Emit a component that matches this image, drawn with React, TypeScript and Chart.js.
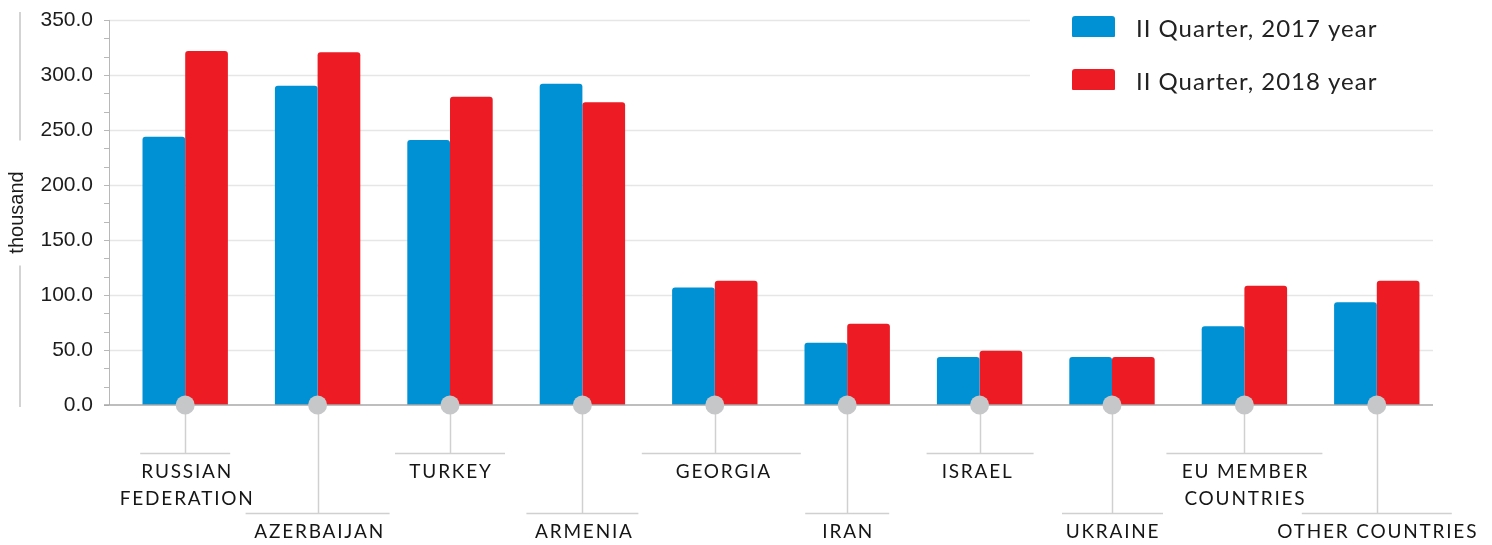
import React, { useEffect, useRef } from 'react';
import { Chart, registerables } from 'chart.js';

Chart.register(...registerables);

const categories: string[][] = [
  ['RUSSIAN', 'FEDERATION'],
  ['AZERBAIJAN'],
  ['TURKEY'],
  ['ARMENIA'],
  ['GEORGIA'],
  ['IRAN'],
  ['ISRAEL'],
  ['UKRAINE'],
  ['EU MEMBER', 'COUNTRIES'],
  ['OTHER COUNTRIES'],
];
const seriesNames = ['II Quarter, 2017 year', 'II Quarter, 2018 year'];
const q2y2017 = [243.9, 290.3, 241.0, 292.0, 106.8, 56.6, 43.6, 43.6, 71.5, 93.4];
const q2y2018 = [321.8, 320.6, 280.3, 275.3, 112.9, 73.9, 49.4, 43.6, 108.5, 112.9];
const yMax = 350;
const yStep = 50;
const yTitle = 'thousand';

// decoration styling (rule half-widths left/right and text shift per label)
const ruleSpans = [[45, 45], [72, 72], [55, 55], [56, 56], [73, 86], [42, 42], [53, 54], [50, 51], [78, 78], [75, 75]];
const textShift = [1, 1, 0, 1, 8, 0, -3, 0, 0, 0];

const BLUE = '#0091d5';
const RED = '#ed1c24';

function line(ctx: CanvasRenderingContext2D, x1: number, y1: number, x2: number, y2: number) {
  ctx.beginPath();
  ctx.moveTo(x1, y1);
  ctx.lineTo(x2, y2);
  ctx.stroke();
}

const decor = {
  id: 'decor',
  beforeDatasetsDraw(chart: any) {
    const { ctx, chartArea: a, scales } = chart;
    const y = scales.y;
    const left = a.left - 10;
    const right = a.right - 10;
    ctx.save();
    ctx.strokeStyle = '#e6e6e6';
    ctx.lineWidth = 1.5;
    for (let v = yStep; v <= yMax; v += yStep) {
      const py = Math.round(y.getPixelForValue(v)) + 0.5;
      line(ctx, left, py, right, py);
    }
    // white legend backdrop
    ctx.fillStyle = '#ffffff';
    ctx.fillRect(1030, 0, chart.width - 1030, 100);
    // minor ticks
    ctx.strokeStyle = '#b8b8b8';
    ctx.lineWidth = 1;
    for (let i = 0; i <= (yMax / yStep) * 3; i++) {
      const py = Math.round(y.getPixelForValue((i * yStep) / 3)) + 0.5;
      line(ctx, left - 5, py, left, py);
    }
    line(ctx, left + 0.5, y.getPixelForValue(yMax), left + 0.5, y.getPixelForValue(0));
    ctx.restore();
  },
  afterDatasetsDraw(chart: any) {
    const { ctx, chartArea: a, scales } = chart;
    const x = scales.x;
    const y = scales.y;
    const left = a.left - 10;
    const right = a.right - 10;
    const y0 = y.getPixelForValue(0);
    ctx.save();
    // bottom axis
    ctx.strokeStyle = '#a8a8a8';
    ctx.lineWidth = 1.5;
    line(ctx, left - 5, y0, right, y0);

    categories.forEach((lab, i) => {
      const cx = x.getPixelForValue(i);
      const long = i % 2 === 1;
      const ly = long ? y0 + 108.5 : y0 + 48.5;
      ctx.strokeStyle = '#d0d0d0';
      ctx.lineWidth = 1.5;
      line(ctx, Math.round(cx) + 0.5, y0, Math.round(cx) + 0.5, ly);
      line(ctx, cx - ruleSpans[i][0], ly, cx + ruleSpans[i][1], ly);
      ctx.fillStyle = '#c6c7c9';
      ctx.beginPath();
      ctx.arc(cx, y0, 9.5, 0, Math.PI * 2);
      ctx.fill();
      ctx.fillStyle = '#161616';
      ctx.font = '400 19px Lato';
      (ctx as any).letterSpacing = '1.8px';
      ctx.textAlign = 'center';
      ctx.textBaseline = 'middle';
      lab.forEach((t, k) => {
        ctx.fillText(t, cx + textShift[i] + 1, ly + 18.5 + k * 27);
      });
    });
    (ctx as any).letterSpacing = '0px';

    // legend
    const colors = [BLUE, RED];
    seriesNames.forEach((n, k) => {
      const top = 16 + k * 53;
      ctx.fillStyle = colors[k];
      ctx.beginPath();
      (ctx as any).roundRect(1072, top, 43, 21, [3, 3, 1, 1]);
      ctx.fill();
      ctx.fillStyle = '#222';
      ctx.font = '24px Lato';
      (ctx as any).letterSpacing = '1px';
      ctx.textAlign = 'left';
      ctx.textBaseline = 'alphabetic';
      ctx.fillText(n, 1136, top + 21);
    });
    (ctx as any).letterSpacing = '0px';

    // y title rules
    const mid = (y.top + y.bottom) / 2;
    ctx.strokeStyle = '#c4c4c4';
    ctx.lineWidth = 1.5;
    line(ctx, 20, y.top - 8, 20, mid - 72);
    line(ctx, 20, mid + 53, 20, y0 + 2);
    ctx.restore();
  },
};

export default function App() {
  const ref = useRef<HTMLCanvasElement | null>(null);
  useEffect(() => {
    document.body.style.margin = '0';
    const canvas = ref.current!;
    const chart = new Chart(canvas, {
      type: 'bar',
      data: {
        labels: categories,
        datasets: [
          {
            label: seriesNames[0],
            data: q2y2017,
            backgroundColor: BLUE,
            borderRadius: { topLeft: 3, topRight: 3, bottomLeft: 0, bottomRight: 0 },
            borderSkipped: false,
          },
          {
            label: seriesNames[1],
            data: q2y2018,
            backgroundColor: RED,
            borderRadius: { topLeft: 3, topRight: 3, bottomLeft: 0, bottomRight: 0 },
            borderSkipped: false,
          },
        ],
      },
      options: {
        responsive: false,
        animation: false,
        layout: { padding: { left: 0, right: 49, top: 20, bottom: 140 } },
        plugins: { legend: { display: false }, tooltip: { enabled: false } },
        datasets: { bar: { categoryPercentage: 0.645, barPercentage: 1 } },
        scales: {
          x: { display: false },
          y: {
            min: 0,
            max: yMax,
            afterFit(scale: any) {
              scale.width = 119;
              scale.paddingTop = 0;
              scale.paddingBottom = 0;
            },
            grid: { display: false },
            border: { display: false },
            ticks: {
              stepSize: yStep,
              padding: 18,
              color: '#1c1c1c',
              font: { family: '"Liberation Sans", Arial, sans-serif', size: 21 },
              callback: (v: any) => Number(v).toFixed(1),
            },
            title: {
              display: true,
              text: yTitle,
              color: '#1c1c1c',
              padding: { top: 5, bottom: 0 },
              font: { family: '"Liberation Sans", Arial, sans-serif', size: 20 },
            },
          },
        },
      },
      plugins: [decor],
    });
    return () => chart.destroy();
  }, []);
  return <canvas ref={ref} width={1492} height={545} style={{ display: 'block' }} />;
}
